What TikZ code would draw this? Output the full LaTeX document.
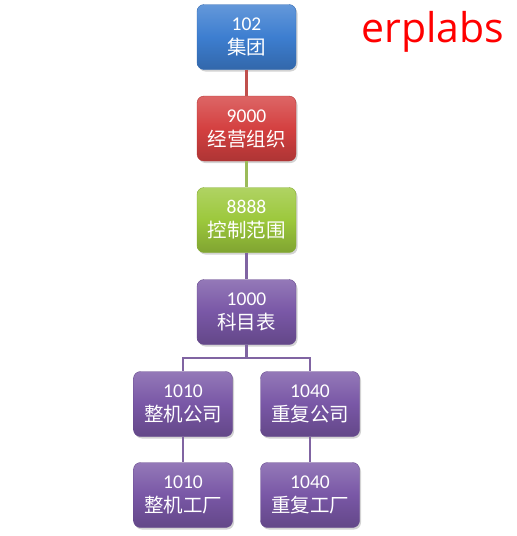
\documentclass[tikz,border=0pt]{standalone}
\usepackage{fontspec}
\setmainfont{Carlito}
\newfontfamily\cjk{Noto Sans CJK SC}
\newfontfamily\logofont{Open Sans}
\usetikzlibrary{shadows,calc}
\definecolor{bblue}{HTML}{3D7ED0}
\definecolor{bred}{HTML}{D44040}
\definecolor{bgreen}{HTML}{9CC83C}
\definecolor{bpurple}{HTML}{7957A6}
\definecolor{lred}{HTML}{C0504D}
\definecolor{lgreen}{HTML}{9BBB59}
\definecolor{lpurple}{HTML}{8064A2}
\tikzset{
  box/.style={rounded corners=7pt, minimum width=99pt, minimum height=65pt,
    inner sep=0pt, align=center, text=white, font=\fontsize{19.5}{24}\selectfont,
    draw=#1!85!black, line width=0.4pt,
    top color=#1!80!white, bottom color=#1!82!black, middle color=#1,
    drop shadow={opacity=0.35, shadow xshift=1.5pt, shadow yshift=-2pt}},
  link/.style={draw=#1, line width=2.2pt},
}
\begin{document}
\begin{tikzpicture}[x=1pt,y=-1pt]
\useasboundingbox (0,0) rectangle (517,536);
\node[box=bblue]   (g)  at (246.5,37)  {102\\{\cjk 集团}};
\node[box=bred]    (o)  at (246.5,128.5) {9000\\{\cjk 经营组织}};
\node[box=bgreen]  (c)  at (246.5,220) {8888\\{\cjk 控制范围}};
\node[box=bpurple] (k)  at (246.5,312) {1000\\{\cjk 科目表}};
\node[box=bpurple] (c1) at (183,404)   {1010\\{\cjk 整机公司}};
\node[box=bpurple] (c2) at (310,404)   {1040\\{\cjk 重复公司}};
\node[box=bpurple] (p1) at (183,495)   {1010\\{\cjk 整机工厂}};
\node[box=bpurple] (p2) at (310,495)   {1040\\{\cjk 重复工厂}};
\node[text=red, font=\logofont\fontsize{41}{46}\selectfont] (logo) at (433,32) {erplabs};
\coordinate (j) at (246.5,358);
\path[link=lred]    (g) -- (o);
\path[link=lgreen]  (o) -- (c);
\path[link=lpurple] (c) -- (k);
\path[link=lpurple] (k) -- (j) -| (c1);
\path[link=lpurple] (j) -| (c2);
\path[link=lpurple] (c1) -- (p1);
\path[link=lpurple] (c2) -- (p2);
\end{tikzpicture}
\end{document}
